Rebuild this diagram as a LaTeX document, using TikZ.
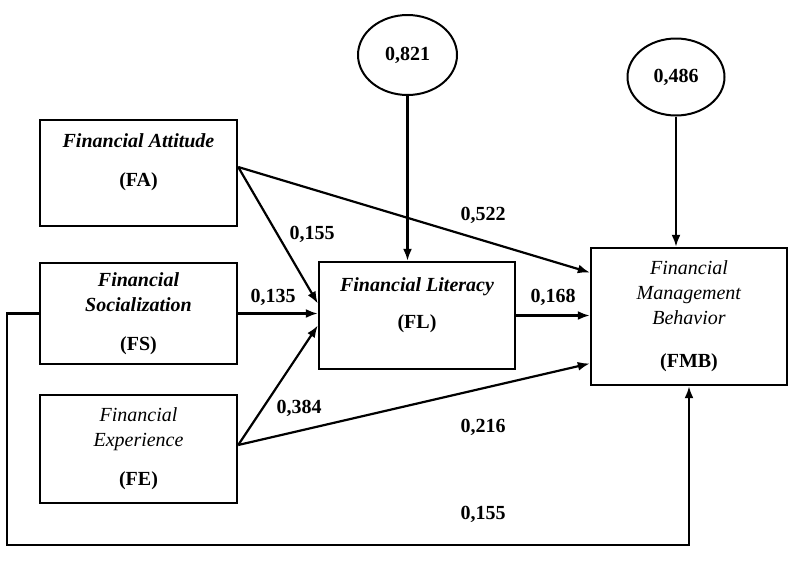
\documentclass[tikz,border=0pt]{standalone}
\usepackage{fontspec}
\setmainfont{Liberation Serif}
\usepackage{tikz}
\usetikzlibrary{shapes.geometric,arrows.meta}

\newcommand{\fname}[1]{\textbf{\textit{#1}}}

\begin{document}
\begin{tikzpicture}[x=1pt,y=-1pt]
	\tikzset{every node/.style={font=\fontsize{20}{25}\selectfont}}
	\tikzset{construct/.style={draw,line width=2.4pt,minimum width=197pt,align=center,inner sep=0pt}}
	\tikzset{residual/.style={draw,ellipse,line width=2pt,inner sep=0pt,font=\bfseries\fontsize{20}{25}\selectfont}}
	\tikzset{coef/.style={inner sep=0pt,font=\bfseries\fontsize{20}{25}\selectfont}}
	\tikzset{effect/.style={-{Latex[length=12pt,width=9pt]},line width=2.2pt}}
	\useasboundingbox (0,0) rectangle (800,560);
	% constructs
	\node[construct,minimum height=106pt] (FA) at (138.5,173) {\fname{Financial Attitude}\\[14pt]\textbf{(FA)}\\ \mbox{}};
	\node[construct,minimum height=101pt] (FS) at (138.5,313.5) {\fname{Financial}\\\fname{Socialization}\\[14pt]\textbf{(FS)}};
	\node[construct,minimum height=108pt] (FE) at (138.5,449) {\textit{Financial}\\\textit{Experience}\\[14pt]\textbf{(FE)}};
	\node[construct,minimum width=196pt,minimum height=107pt] (FL) at (417,315.5) {\fname{Financial Literacy}\\[12pt]\textbf{(FL)}\\ \mbox{}};
	\node[construct,minimum width=196pt,minimum height=137pt] (FMB) at (689,316.5) {\textit{Financial}\\\textit{Management}\\\textit{Behavior}\\[18pt]\textbf{(FMB)}};
	% residuals
	\node[residual,minimum width=99pt,minimum height=80pt] (e821) at (407.5,55) {0,821};
	\node[residual,minimum width=97pt,minimum height=77pt] (e486) at (676,77) {0,486};
	\coordinate (loopcorner) at (7,545);
	% paths
	\draw[effect] (e821.south) -- (e821.south |- FL.north);
	\draw[effect] (e486.south) -- (e486.south |- FMB.north);
	\draw[effect] ([yshift=6pt]FA.east) -- ([yshift=44pt]FMB.west);
	\draw[effect] ([yshift=6pt]FA.east) -- ([yshift=12pt]FL.west);
	\draw[effect] (FS.east) -- (FS.east -| FL.west);
	\draw[effect] ([yshift=4pt]FE.east) -- ([yshift=-10pt]FL.west);
	\draw[effect] ([yshift=4pt]FE.east) -- ([yshift=-47pt]FMB.west);
	\draw[effect] (FL.east) -- (FL.east -| FMB.west);
	\draw[effect] (FS.west) -- (FS.west -| loopcorner) -- (loopcorner) -| (FMB.south);
	% coefficients
	\node[coef] (cFAFL) at (312,234) {0,155};
	\node[coef] (cFSFL) at (273,297) {0,135};
	\node[coef] (cFAFMB) at (483,215) {0,522};
	\node[coef] (cFLFMB) at (553,297) {0,168};
	\node[coef] (cFEFL) at (299,408) {0,384};
	\node[coef] (cFEFMB) at (483,427) {0,216};
	\node[coef] (cFSFMB) at (483,514) {0,155};
\end{tikzpicture}
\end{document}
